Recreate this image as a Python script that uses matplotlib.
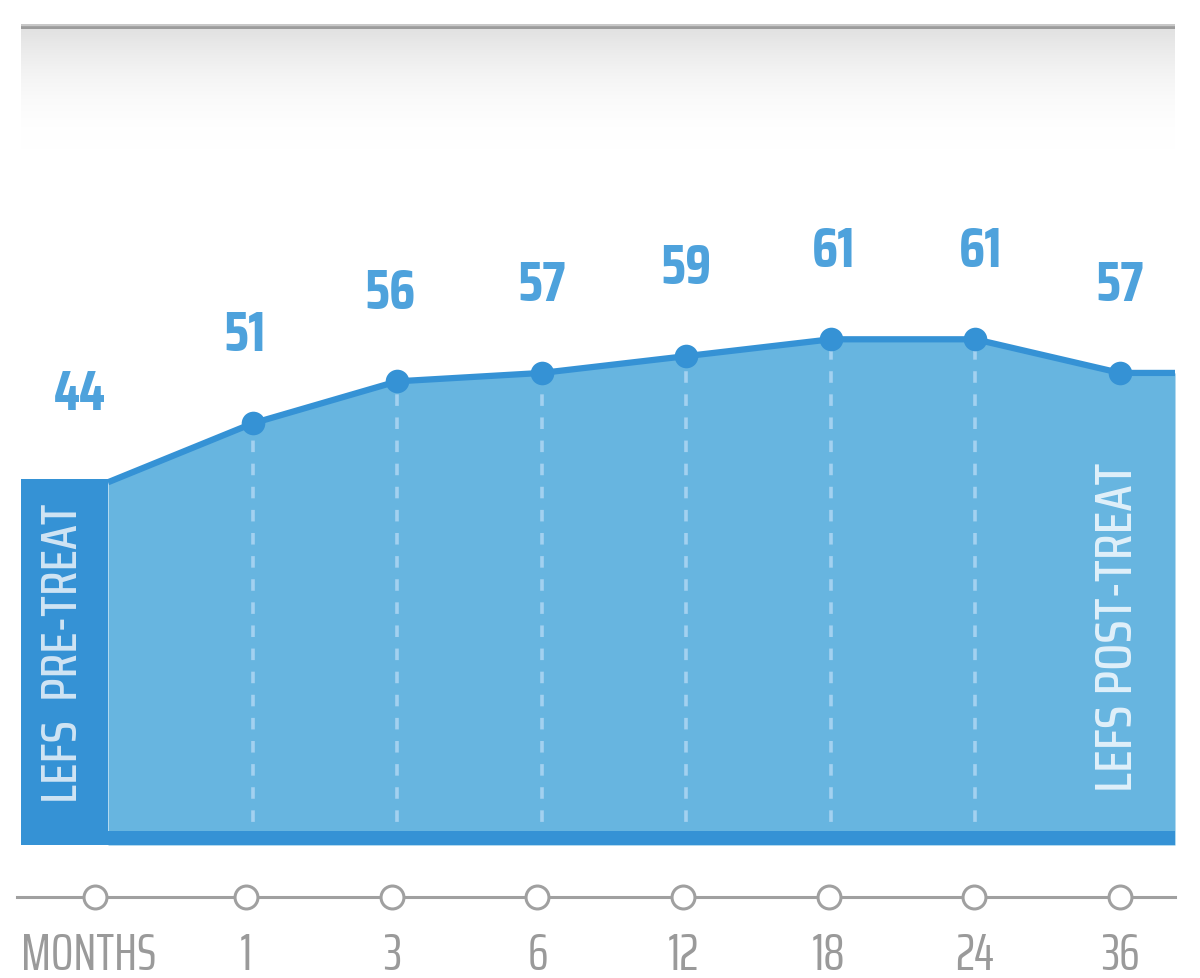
import matplotlib
matplotlib.use("Agg")
import matplotlib.pyplot as plt
import numpy as np
from matplotlib.patches import Rectangle

# ---------------- data ----------------
months = ["MONTHS", "1", "3", "6", "12", "18", "24", "36"]
lefs_scores = [44, 51, 56, 57, 59, 61, 61, 57]
pre_label = "LEFS  PRE-TREAT"
post_label = "LEFS POST-TREAT"

# ---------------- style ----------------
DARK = "#3592d5"
FILL = "#67b5e0"
DASH = "#a3d1f0"
VALC = "#4ea2dc"
GRAY = "#a0a0a0"
TXTGRAY = "#9a9a9a"
FONT = "Saira ExtraCondensed"
FONT_V = "Saira Condensed"

W, H = 1200, 979
fig = plt.figure(figsize=(W / 100, H / 100), dpi=100)
fig.patch.set_facecolor("white")


def fr(x0, y0, x1, y1):
    """pixel box (top-left origin) -> figure fraction rect"""
    return [x0 / W, 1 - y1 / H, (x1 - x0) / W, (y1 - y0) / H]


# ---------------- header gradient ----------------
axh = fig.add_axes(fr(21, 29, 1175, 150))
t = np.linspace(0, 1, 200)
g = 255 - 30 * (1 - t) ** 2.0
img = np.repeat((g / 255.0)[:, None], 2, axis=1)
axh.imshow(np.dstack([img, img, img]), aspect="auto", extent=[0, 1, 0, 1],
           interpolation="bilinear")
axh.set_xlim(0, 1)
axh.set_ylim(0, 1)
axh.axis("off")
axbar = fig.add_axes(fr(21, 24.5, 1175, 30))
axbar.add_patch(Rectangle((0, 0), 1, 1, color="#9c9c9c", transform=axbar.transAxes))
axbar.add_patch(Rectangle((0, 0.75), 1, 0.25, color="#c8c8c8", transform=axbar.transAxes))
axbar.axis("off")

# ---------------- main area chart ----------------
px_per_idx = (1120 - 108) / 7.0
ax = fig.add_axes(fr(21, 150, 1175, 846))
x0 = -(108 - 21) / px_per_idx
x1 = (1175 - 108) / px_per_idx
slope = 8.41      # px per score unit
zero_px = 853.3   # pixel row for score 0
ymin = (zero_px - 846) / slope
ymax = (zero_px - 150) / slope
ax.set_xlim(x0, x1)
ax.set_ylim(ymin, ymax)
ax.axis("off")

idx = np.arange(len(lefs_scores))
xs_fill = np.append(idx, x1)
ys_fill = np.append(lefs_scores, lefs_scores[-1])

ax.fill_between(xs_fill, ymin, ys_fill, color=FILL, zorder=1, linewidth=0)

# dashed guides (not for the final point)
ax.vlines(idx[1:-1], ymin, np.array(lefs_scores[1:-1]), colors=DASH,
          linewidth=2.6, linestyles=(0, (3.2, 3.2)), zorder=2)

# pre-treat block
ax.add_patch(Rectangle((x0, ymin), -x0, lefs_scores[0] + 3.2 / slope - ymin,
                       color=DARK, zorder=3, linewidth=0))

ax.plot(xs_fill, ys_fill, color=DARK, linewidth=4.5, solid_capstyle="butt",
        solid_joinstyle="round", zorder=4)
ax.plot(idx[1:], lefs_scores[1:], "o", color=DARK, markersize=17, zorder=5,
        markeredgewidth=0)

# bottom band
ax.add_patch(Rectangle((0, 0), 1, 14 / 696, transform=ax.transAxes,
                       color=DARK, zorder=6, linewidth=0, clip_on=False))

# value labels
label_dx = [-20, -6, -5, 0, 0, 2, 4, 0]
for i, v in enumerate(lefs_scores):
    ax.annotate(str(v), xy=(i, v), xytext=(label_dx[i], 52.5), textcoords="offset points",
                ha="center", va="baseline", fontsize=40, fontweight="bold",
                family=FONT_V, color=VALC, zorder=7, annotation_clip=False)

# vertical labels
fig.text(64 / W, 1 - 653 / H, pre_label, rotation=90, ha="center", va="center",
         fontsize=36, fontweight=500, family=FONT_V, color="#d0e4f4", zorder=8)
fig.text(1118 / W, 1 - 627 / H, post_label, rotation=90, ha="center", va="center",
         fontsize=38, fontweight=500, family=FONT_V, color="#e0f0fa", zorder=8)

# ---------------- timeline ----------------
axt = fig.add_axes(fr(0, 860, 1200, 979))
step = (1120 - 246) / 6.0
tx0 = -(246 - step) / step
tx1 = (1200 - (246 - step)) / step
axt.set_xlim(tx0, tx1)
axt.set_ylim(0, 1)
axt.axis("off")
line_y = (979 - 898) / 119
axt.axhline(line_y, xmin=17 / 1200, xmax=1175 / 1200, color=GRAY, linewidth=2.2, zorder=1)
tick_x = np.arange(len(months), dtype=float)
tick_x[0] -= 5 / step
axt.plot(tick_x, [line_y] * len(months), "o", markersize=16.5, markerfacecolor="white",
         markeredgecolor=GRAY, markeredgewidth=2.2, zorder=2, clip_on=False)
lab_x = np.arange(len(months), dtype=float)
lab_x[0] -= 12 / step
for xv, lab in zip(lab_x, months):
    axt.text(xv, (979 - 970) / 119, lab, ha="center", va="baseline", fontsize=38,
             family=FONT, color=TXTGRAY, clip_on=False)

fig.savefig("out.png", dpi=100, facecolor="white")
